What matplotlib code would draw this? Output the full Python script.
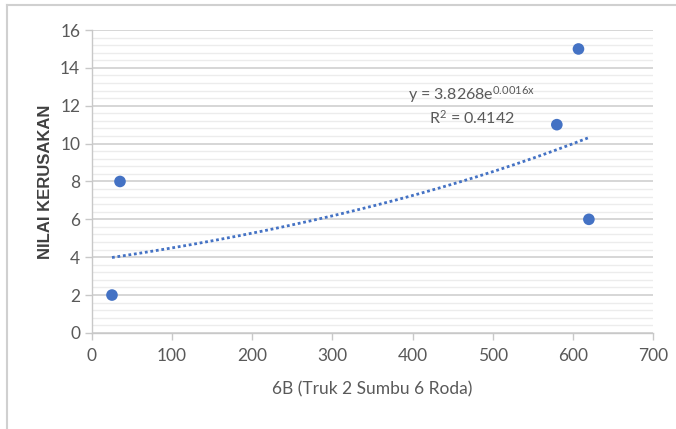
import numpy as np
import matplotlib
matplotlib.use("Agg")
import matplotlib.pyplot as plt
from matplotlib.ticker import MultipleLocator
from matplotlib.lines import Line2D

# Data
x_vals = [25, 35, 580, 607, 620]
y_vals = [2, 8, 11, 15, 6]
trend_a = 3.8268
trend_b = 0.0016
eq_text = "y = 3.8268e$^{0.0016x}$"
r2_text = "R$^2$ = 0.4142"
x_label = "6B (Truk 2 Sumbu 6 Roda)"
y_label = "NILAI KERUSAKAN"

plt.rcParams['font.family'] = ['Lato', 'DejaVu Sans']
plt.rcParams['mathtext.fontset'] = 'custom'
plt.rcParams['mathtext.rm'] = 'Lato'
plt.rcParams['mathtext.it'] = 'Lato'

fig = plt.figure(figsize=(6.76, 4.29), dpi=100)
ax = fig.add_axes([0.136, 0.224, 0.830, 0.706])

ax.set_xlim(0, 700)
ax.set_ylim(0, 16)
ax.xaxis.set_major_locator(MultipleLocator(100))
ax.yaxis.set_major_locator(MultipleLocator(2))
ax.yaxis.set_minor_locator(MultipleLocator(0.4))

ax.grid(which='major', axis='y', color='#d0d0d0', linewidth=1.2, zorder=0)
ax.grid(which='minor', axis='y', color='#ececec', linewidth=1.0, zorder=0)
ax.set_axisbelow(True)

for s in ['top', 'right']:
    ax.spines[s].set_visible(False)
for s in ['left', 'bottom']:
    ax.spines[s].set_color('#c8c8c8')
    ax.spines[s].set_linewidth(1.0)

ax.tick_params(axis='both', which='major', colors='#c8c8c8', labelcolor='#595959',
               labelsize=12.5, length=5, width=1.0, direction='out')
ax.tick_params(axis='y', which='minor', length=0)
ax.tick_params(axis='x', pad=6)

# Trendline
xt = np.linspace(min(x_vals), max(x_vals), 200)
yt = trend_a * np.exp(trend_b * xt)
ax.plot(xt, yt, color='#4472C4', linestyle=(0, (1, 1)), linewidth=2.0, zorder=2)

ax.scatter(x_vals, y_vals, s=70, color='#4472C4', zorder=3, edgecolors='none')

ax.text(474, 12.6, eq_text, ha='center', va='center', fontsize=11.5, color='#595959')
ax.text(474, 11.35, r2_text, ha='center', va='center', fontsize=11.5, color='#595959')

ax.set_xlabel(x_label, fontsize=12.5, color='#595959', labelpad=12)
ax.set_ylabel(y_label, fontsize=12, color='#404040', fontweight='bold', labelpad=5,
              family=['Liberation Sans', 'DejaVu Sans'])

# chart border (top and left visible)
fig.add_artist(Line2D([7/676, 7/676], [0, 1 - 5/429], transform=fig.transFigure,
                      color='#d0d0d0', linewidth=1.5))
fig.add_artist(Line2D([7/676, 1], [1 - 5/429, 1 - 5/429], transform=fig.transFigure,
                      color='#d0d0d0', linewidth=1.5))

fig.savefig("out.png", dpi=100)
